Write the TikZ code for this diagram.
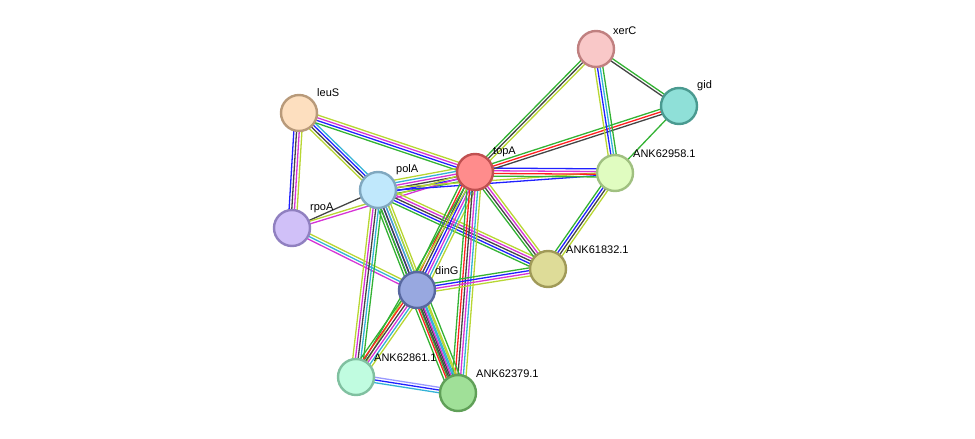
\documentclass[tikz,border=0pt]{standalone}
\usepackage{fontspec}
\setmainfont{Liberation Sans}
\usetikzlibrary{calc}
\definecolor{sgreen}{HTML}{33B233}
\definecolor{sred}{HTML}{FF2020}
\definecolor{sblue}{HTML}{2020FF}
\definecolor{sblack}{HTML}{444444}
\definecolor{smag}{HTML}{D633D6}
\definecolor{scyan}{HTML}{33B2D6}
\definecolor{syel}{HTML}{B8D633}
\definecolor{slav}{HTML}{9999FF}
\tikzset{gene/.style={circle,minimum size=36pt,line width=2.4pt,inner sep=0pt},
lbl/.style={font=\fontsize{11}{12}\selectfont,inner sep=1pt}}
\newcommand\edge[3]{%
\foreach \c [count=\i] in {#3} {\xdef\nn{\i}}%
\foreach \c [count=\i] in {#3}{\pgfmathsetmacro\o{(\i-(\nn+1)/2)*2.7}%
\draw[\c, line width=1.3pt] ($(#1)!\o pt!90:(#2)$) -- ($(#2)!\o pt!-90:(#1)$);}}
\begin{document}
\begin{tikzpicture}[x=1pt,y=-1pt]
\useasboundingbox (0,0) rectangle (975,439);
\coordinate (xerC) at (596,49);
\coordinate (gid) at (679,106);
\coordinate (leuS) at (299,113);
\coordinate (topA) at (475,172);
\coordinate (k958) at (615,173);
\coordinate (polA) at (378,190);
\coordinate (rpoA) at (292,228);
\coordinate (k832) at (548,269);
\coordinate (dinG) at (417,290);
\coordinate (k861) at (356,377);
\coordinate (k379) at (458,393);
\edge{leuS}{rpoA}{sblue,sblack,smag,syel}
\edge{leuS}{polA}{syel,sblack,sblue,scyan}
\edge{leuS}{topA}{sgreen,sblue,smag,syel}
\edge{polA}{topA}{sgreen,sblue,sblack,smag,scyan,syel}
\edge{rpoA}{polA}{sblack}
\edge{rpoA}{topA}{smag,syel}
\edge{rpoA}{dinG}{smag,scyan,syel}
\edge{polA}{dinG}{sgreen,sblack,sblue,smag,scyan,syel}
\edge{polA}{k832}{sgreen,sblue,sblack,smag,syel}
\edge{polA}{k861}{syel,smag,sblack,scyan,sgreen}
\edge{polA}{k379}{sgreen,sblack,scyan,syel}
\edge{polA}{k958}{sblue,syel}
\edge{topA}{dinG}{sgreen,sred,sblack,sblue,smag,scyan,syel}
\edge{topA}{k379}{sgreen,sred,sblack,smag,scyan,syel}
\edge{topA}{k861}{sgreen,syel}
\edge{topA}{k832}{sgreen,sblack,smag,syel}
\edge{topA}{k958}{sgreen,sred,smag,sblue}
\edge{topA}{xerC}{syel,sblack,sgreen}
\edge{topA}{gid}{sblack,sred,sgreen}
\edge{xerC}{gid}{sblack,sgreen}
\edge{xerC}{k958}{syel,sblue,scyan,sgreen}
\edge{gid}{k958}{sgreen}
\edge{k958}{k832}{sgreen,sblue,sblack,syel}
\edge{dinG}{k832}{syel,smag,sblue,sgreen}
\edge{dinG}{k861}{sgreen,sred,sblack,smag,scyan,syel}
\edge{dinG}{k379}{sgreen,sred,sblack,smag,scyan,syel,sgreen}
\edge{k861}{k379}{scyan,sblue,slav}
\node[gene,fill={rgb,255:red,249;green,200;blue,200},draw={rgb,255:red,192;green,128;blue,128}] (nxerC) at (xerC) {};
\node[gene,fill={rgb,255:red,143;green,224;blue,216},draw={rgb,255:red,74;green,154;blue,144}] (ngid) at (gid) {};
\node[gene,fill={rgb,255:red,253;green,223;blue,191},draw={rgb,255:red,184;green,154;blue,122}] (nleuS) at (leuS) {};
\node[gene,fill={rgb,255:red,255;green,140;blue,140},draw={rgb,255:red,192;green,80;blue,80}] (ntopA) at (topA) {};
\node[gene,fill={rgb,255:red,224;green,252;blue,192},draw={rgb,255:red,160;green,192;blue,128}] (n958) at (k958) {};
\node[gene,fill={rgb,255:red,192;green,232;blue,252},draw={rgb,255:red,128;green,168;blue,192}] (npolA) at (polA) {};
\node[gene,fill={rgb,255:red,208;green,192;blue,248},draw={rgb,255:red,144;green,128;blue,192}] (nrpoA) at (rpoA) {};
\node[gene,fill={rgb,255:red,222;green,220;blue,152},draw={rgb,255:red,160;green,154;blue,88}] (n832) at (k832) {};
\node[gene,fill={rgb,255:red,152;green,168;blue,224},draw={rgb,255:red,88;green,104;blue,160}] (ndinG) at (dinG) {};
\node[gene,fill={rgb,255:red,192;green,252;blue,224},draw={rgb,255:red,128;green,192;blue,160}] (n861) at (k861) {};
\node[gene,fill={rgb,255:red,160;green,224;blue,152},draw={rgb,255:red,96;green,160;blue,88}] (n379) at (k379) {};
\node[lbl,anchor=south west] at (612,36) {xerC};
\node[lbl,anchor=south west] at (696,92) {gid};
\node[lbl,anchor=south west] at (316,98) {leuS};
\node[lbl,anchor=south west] at (492,158) {topA};
\node[lbl,anchor=south west] at (632,159) {ANK62958.1};
\node[lbl,anchor=south west] at (395,176) {polA};
\node[lbl,anchor=south west] at (309,214) {rpoA};
\node[lbl,anchor=south west] at (565,255) {ANK61832.1};
\node[lbl,anchor=south west] at (434,276) {dinG};
\node[lbl,anchor=south west] at (373,363) {ANK62861.1};
\node[lbl,anchor=south west] at (475,379) {ANK62379.1};
\end{tikzpicture}
\end{document}
